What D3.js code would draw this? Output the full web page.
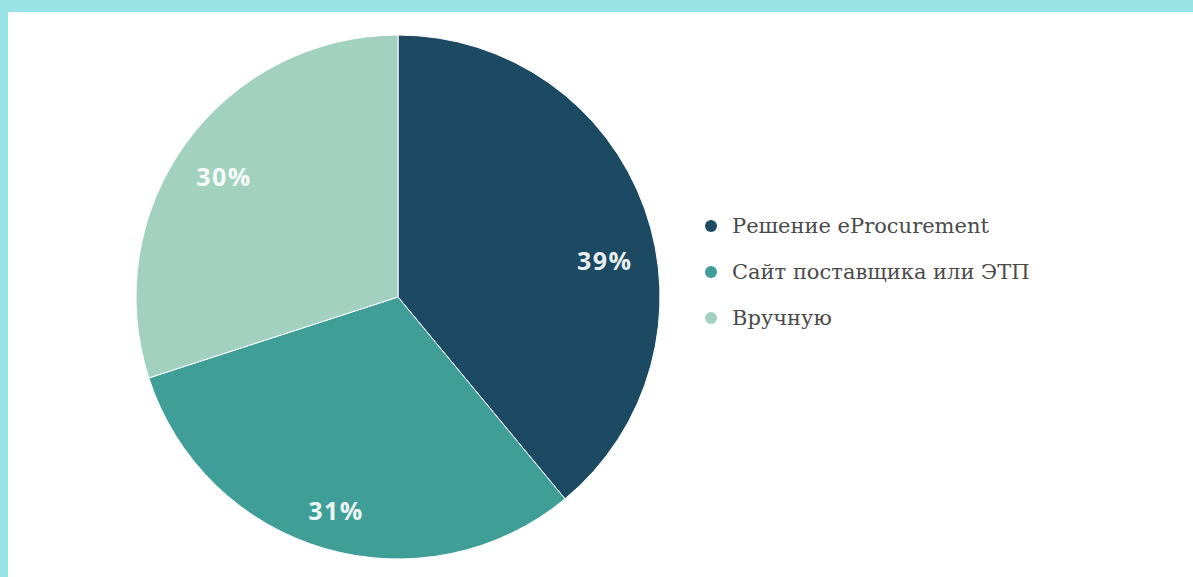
<!DOCTYPE html>
<html>
<head>
<meta charset="utf-8">
<script src="https://cdn.jsdelivr.net/npm/d3@7/dist/d3.min.js"></script>
<style>
  html, body { margin: 0; padding: 0; background: #98e3e6; }
  svg { display: block; }
</style>
</head>
<body>
<svg id="chart" width="1193" height="577"></svg>
<script>
// Share of purchase orders by channel
const categories = ["Решение eProcurement", "Сайт поставщика или ЭТП", "Вручную"];
const shares = [39, 31, 30];
const labels = ["39%", "31%", "30%"];
const colors = ["#1b4a62", "#3f9e98", "#a3d1c0"];

const width = 1193, height = 577;
const svg = d3.select("#chart");

// white panel inside the cyan frame
svg.append("rect")
  .attr("x", 8).attr("y", 12)
  .attr("width", width - 8).attr("height", height - 12)
  .attr("fill", "#ffffff");

const cx = 398, cy = 297, radius = 262;

const pie = d3.pie().sort(null).value(d => d.value);
const arcs = pie(categories.map((c, i) => ({ name: c, value: shares[i], label: labels[i] })));

const arc = d3.arc().innerRadius(0).outerRadius(radius);

const g = svg.append("g").attr("transform", `translate(${cx},${cy})`);

g.selectAll("path.slice")
  .data(arcs)
  .join("path")
  .attr("class", "slice")
  .attr("d", arc)
  .attr("fill", (d, i) => colors[i])
  .attr("stroke", "#ffffff")
  .attr("stroke-width", 1);

// percentage labels placed along each slice's mid angle;
// the first label is nudged toward the slice's lower part
const labelRadius = [210, 222, 212];
const angleNudge = [0.17, 0, -0.02];
g.selectAll("text.pct")
  .data(arcs)
  .join("text")
  .attr("class", "pct")
  .each(function (d, i) {
    const a = (d.startAngle + d.endAngle) / 2 + angleNudge[i];
    d3.select(this)
      .attr("x", labelRadius[i] * Math.sin(a))
      .attr("y", -labelRadius[i] * Math.cos(a));
  })
  .attr("text-anchor", "middle")
  .attr("dominant-baseline", "central")
  .attr("fill", "#ffffff")
  .attr("fill-opacity", 0.92)
  .attr("font-family", "'Open Sans', sans-serif")
  .attr("font-weight", 700)
  .attr("font-size", 25)
  .attr("letter-spacing", 1.5)
  .text(d => d.data.label);

// legend
const legendY = d3.scalePoint().domain(categories).range([226, 318]);
const legend = svg.append("g");
const item = legend.selectAll("g.item")
  .data(categories)
  .join("g")
  .attr("class", "item")
  .attr("transform", d => `translate(711,${legendY(d)})`);

item.append("circle")
  .attr("r", 6)
  .attr("fill", (d, i) => colors[i]);

item.append("text")
  .attr("x", 21)
  .attr("y", 7)
  .attr("fill", "#4a4a4a")
  .attr("font-family", "'DejaVu Serif', serif")
  .attr("font-size", 21)
  .text(d => d);
</script>
</body>
</html>
